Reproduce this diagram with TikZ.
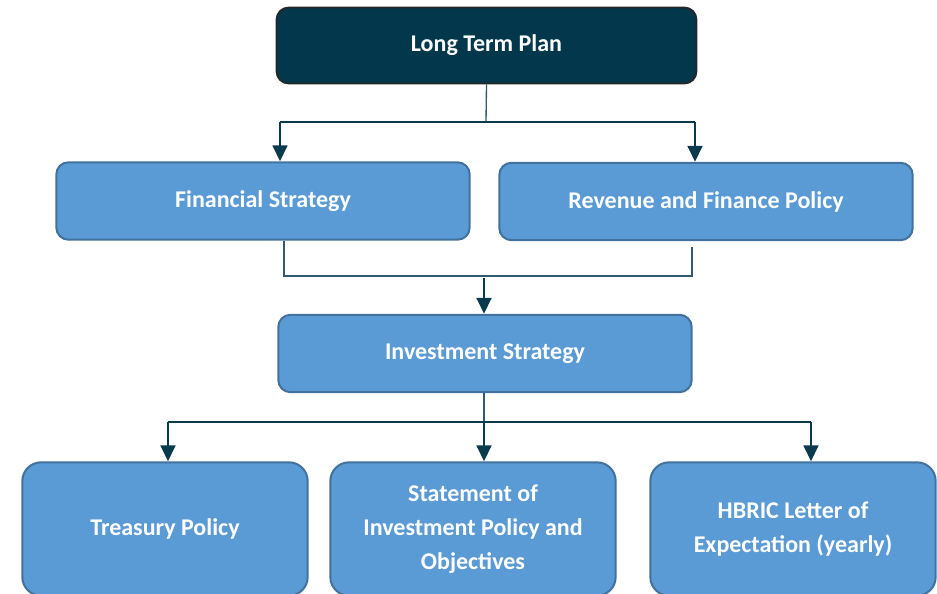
\documentclass[tikz,border=0pt]{standalone}
\usepackage{fontspec}
\setmainfont{Carlito}
\usepackage{xcolor}
\usepackage{tikz}
\usetikzlibrary{arrows.meta, positioning}
\definecolor{planbg}{HTML}{03374B}
\definecolor{boxbg}{HTML}{5B9BD5}
\definecolor{boxline}{HTML}{41719C}
\definecolor{linkcol}{HTML}{0A3A4E}
\definecolor{thincol}{HTML}{2F5A70}

\begin{document}
\begin{tikzpicture}[
  x=0.75pt, y=-0.75pt,
  every node/.style={font=\fontsize{18}{25.5}\selectfont\bfseries, text=white},
  plan/.style={draw=black!85, line width=1.3pt, rounded corners=9pt, fill=planbg,
               minimum width=315pt, minimum height=57pt},
  block/.style={draw=boxline, line width=1.5pt, rounded corners=9pt, fill=boxbg,
                minimum width=310pt, minimum height=58pt, align=center},
  leaf/.style={draw=boxline, line width=1.5pt, rounded corners=14pt, fill=boxbg,
               minimum width=214pt, minimum height=100pt, align=center},
  arrow/.style={-{Triangle[width=11pt, length=12pt]}, line width=2pt, color=linkcol},
  link/.style={line width=1pt, color=thincol},
]
\useasboundingbox (0,0) rectangle (937,593);

% top
\node[plan] (ltp) at (486.5,45.5) {Long Term Plan};

% second row
\node[block] (fin) at (263,201) {Financial Strategy};
\node[block] (rev) at (706,201.5) {Revenue and Finance Policy};

% third row
\node[block] (inv) at (485,353.5) {Investment Strategy};

% bottom row
\node[leaf] (treas) at (165,529) {Treasury Policy};
\node[leaf] (sipo) at (473,529) {Statement of\\Investment Policy and\\Objectives};
\node[leaf] (hbric) at (793,529) {HBRIC Letter of\\Expectation (yearly)};

% Long Term Plan to second row
\coordinate (j1) at (486,122);
\coordinate (fa) at (280,122);
\coordinate (ra) at (695,122);
\draw[link] (ltp.south) -- (j1);
\draw[line width=2pt, color=linkcol] (fa) -- (ra);
\draw[arrow] (fa) -- (fa |- fin.north);
\draw[arrow] (ra) -- (ra |- rev.north);

% second row to Investment Strategy
\coordinate (fb) at (284,276);
\coordinate (rb) at (692,276);
\draw[link] (fin.south -| fb) -- (fb) -- (rb) -- ([yshift=-4pt]rev.south -| rb);
\draw[arrow] (484,278) -- (inv.north -| 484,0);

% Investment Strategy to bottom row
\coordinate (j3) at (484,422);
\coordinate (ta) at (168,422);
\coordinate (ha) at (811,422);
\draw[link] (inv.south -| j3) -- (j3);
\draw[line width=2pt, color=linkcol] (ta) -- (ha);
\draw[arrow] (ta) -- (ta |- treas.north);
\draw[arrow] (j3) -- (j3 |- sipo.north);
\draw[arrow] (ha) -- (ha |- hbric.north);

\end{tikzpicture}
\end{document}
